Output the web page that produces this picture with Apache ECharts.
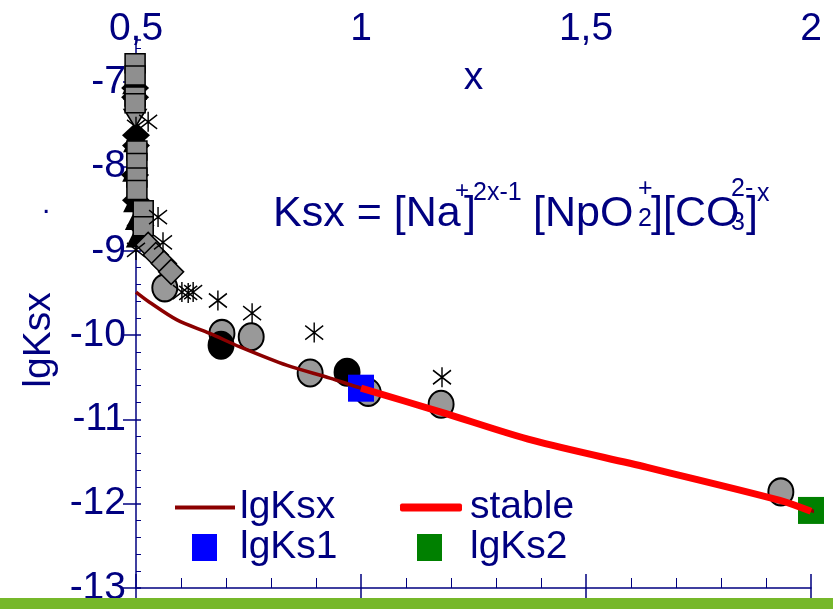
<!DOCTYPE html>
<html><head><meta charset="utf-8">
<script src="https://cdn.jsdelivr.net/npm/echarts@6/dist/echarts.min.js"></script>
<style>html,body{margin:0;padding:0;background:#fff}#c{width:833px;height:609px}</style>
</head><body><div id="c"></div>
<script>
// ---- data ----
const xTickValues = [0.5, 1, 1.5, 2];
const xTickLabels = ['0,5', '1', '1,5', '2'];
const yTickValues = [-13, -12, -11, -10, -9, -8, -7];

const lgKsxLine = [[0.5,-9.49],[0.53,-9.61],[0.591,-9.82],[0.664,-9.98],[0.731,-10.14],[0.836,-10.36],[0.931,-10.51],[1.0,-10.63],[1.176,-10.91],[1.382,-11.25],[1.636,-11.57],[1.931,-11.96],[2.0,-12.08],[2.03,-12.13]];
const stableLine = [[1.0,-10.63],[1.176,-10.91],[1.382,-11.25],[1.636,-11.57],[1.931,-11.96],[2.0,-12.09]];
const lgKs1 = [[1.0,-10.63]];
const lgKs2 = [[2.0,-12.08]];
const grayCircles = [[0.564,-9.44],[0.691,-9.98],[0.756,-10.02],[0.887,-10.45],[1.016,-10.68],[1.178,-10.82],[1.933,-11.86]];
const blackCircles = [[0.689,-10.12],[0.969,-10.44]];
const asterisks = [[0.527,-7.47],[0.5,-7.53],[0.549,-8.60],[0.5,-8.99],[0.56,-8.90],[0.602,-9.49],[0.616,-9.50],[0.627,-9.49],[0.682,-9.59],[0.758,-9.74],[0.896,-9.97],[1.18,-10.50]];
const graySquares = [[0.498,-6.775],[0.498,-6.92],[0.498,-7.17],[0.498,-7.25],[0.502,-7.81],[0.502,-7.96],[0.502,-8.13],[0.502,-8.28],[0.516,-8.52],[0.516,-8.71]];
const grayDiamonds = [[0.527,-8.93],[0.544,-9.05],[0.562,-9.15],[0.578,-9.25]];
const grayTriangles = [[0.498,-7.43]];
const blackTriangles = [[0.496,-7.0],[0.498,-7.07],[0.5,-7.63],[0.498,-7.69],[0.496,-8.04],[0.498,-8.40],[0.502,-8.61],[0.504,-8.82]];
const blackDiamonds = [[0.498,-7.07],[0.498,-7.18],[0.5,-7.63],[0.5,-7.75],[0.498,-8.10],[0.5,-8.40],[0.51,-8.70]];

// ---- chart ----
const NAVY = '#000080';
const FONT = '"Liberation Sans", Arial, sans-serif';
const chart = echarts.init(document.getElementById('c'), null, {renderer: 'canvas'});
const asteriskPath = 'path://M9,0L9,20M0,3L18,17M0,17L18,3';

const grid = {left: 136, right: 22, top: 40, bottom: 21};
function xFmt(v) { const i = xTickValues.indexOf(v); return i >= 0 ? xTickLabels[i] : ''; }
function yFmt(v) { return yTickValues.indexOf(v) >= 0 ? String(v) : ''; }

function scatter(name, data, symbol, size, style, extra) {
  const s = {type: 'scatter', data: data, symbol: symbol, symbolSize: size, clip: false,
    itemStyle: Object.assign({opacity: 1}, style), emphasis: {disabled: true}};
  if (name) s.name = name;
  return Object.assign(s, extra || {});
}

const option = {
  animation: false,
  backgroundColor: '#fff',
  textStyle: {fontFamily: FONT},
  grid: grid,
  xAxis: [
    {type: 'value', position: 'top', min: 0.5, max: 2, interval: 0.5,
     axisLine: {show: false}, axisTick: {show: false}, splitLine: {show: false},
     axisLabel: {formatter: xFmt, color: NAVY, fontSize: 39, fontFamily: FONT, margin: -9},
     name: 'x', nameLocation: 'middle', nameGap: -58,
     nameTextStyle: {color: NAVY, fontSize: 39, fontFamily: FONT}},
    {type: 'value', position: 'bottom', min: 0.5, max: 2, interval: 0.5,
     axisLine: {show: true, lineStyle: {color: NAVY, width: 1.5}},
     axisTick: {show: true, inside: true, length: 14, lineStyle: {color: NAVY, width: 1.5}},
     minorTick: {show: true, splitNumber: 5, length: 10, lineStyle: {color: NAVY, width: 1}},
     axisLabel: {show: false}, splitLine: {show: false}},
    {type: 'value', position: 'bottom', min: 0.5, max: 2, interval: 0.5,
     axisLine: {show: false},
     axisTick: {show: true, inside: false, length: 14, lineStyle: {color: NAVY, width: 1.5}},
     axisLabel: {show: false}, splitLine: {show: false}}
  ],
  yAxis: [
    {type: 'value', position: 'left', min: -13, max: -6.5, interval: 1,
     axisLine: {show: true, lineStyle: {color: NAVY, width: 1.5}},
     axisTick: {show: true, inside: false, length: 13, lineStyle: {color: NAVY, width: 1.5}},
     axisLabel: {formatter: yFmt, color: NAVY, fontSize: 39, fontFamily: FONT, margin: 10, showMaxLabel: false},
     splitLine: {show: false},
     name: 'lgKsx', nameLocation: 'middle', nameGap: 77,
     nameTextStyle: {color: NAVY, fontSize: 39, fontFamily: FONT, padding: [0, 52, 0, 0]}},
    {type: 'value', position: 'left', min: -13, max: -6.5, interval: 1,
     axisLine: {show: false},
     axisTick: {show: true, inside: true, length: 5, lineStyle: {color: NAVY, width: 1.5}},
     minorTick: {show: true, splitNumber: 5, length: 5, lineStyle: {color: NAVY, width: 1}},
     axisLabel: {show: false}, splitLine: {show: false}}
  ],
  legend: [
    {data: [{name: 'lgKsx', icon: 'rect'}], left: 175, top: 488, padding: 0, itemWidth: 60, itemHeight: 4,
     selectedMode: false, textStyle: {color: NAVY, fontSize: 39, fontFamily: FONT}},
    {data: [{name: 'stable', icon: 'roundRect'}], left: 400, top: 488, padding: 0, itemWidth: 62, itemHeight: 8,
     selectedMode: false, textStyle: {color: NAVY, fontSize: 39, fontFamily: FONT, padding: [0, 0, 0, 3]}},
    {data: [{name: 'lgKs1', icon: 'rect'}], left: 192, top: 528, padding: 0, itemWidth: 25, itemHeight: 27,
     selectedMode: false, textStyle: {color: NAVY, fontSize: 39, fontFamily: FONT, padding: [0, 0, 0, 18]}},
    {data: [{name: 'lgKs2', icon: 'rect'}], left: 417, top: 528, padding: 0, itemWidth: 25, itemHeight: 27,
     selectedMode: false, textStyle: {color: NAVY, fontSize: 39, fontFamily: FONT, padding: [0, 0, 0, 23]}}
  ],
  graphic: [
    {type: 'rect', left: 0, top: 598, shape: {width: 833, height: 11}, style: {fill: '#76b82a'}, z: 100},
    {type: 'text', x: 42, y: 190, style: {text: '.', font: '30px ' + FONT, fill: NAVY}},
    {type: 'text', x: 273, y: 214, style: {text: 'Ksx = [Na', font: '43px ' + FONT, fill: NAVY, verticalAlign: 'middle'}},
    {type: 'text', x: 455, y: 191, style: {text: '+', font: '24px ' + FONT, fill: NAVY, verticalAlign: 'middle'}},
    {type: 'text', x: 464, y: 214, style: {text: ']', font: '43px ' + FONT, fill: NAVY, verticalAlign: 'middle'}},
    {type: 'text', x: 473, y: 193, style: {text: '2x-1', font: '25px ' + FONT, fill: NAVY, verticalAlign: 'middle'}},
    {type: 'text', x: 533, y: 214, style: {text: '[NpO', font: '43px ' + FONT, fill: NAVY, verticalAlign: 'middle'}},
    {type: 'text', x: 638, y: 189, style: {text: '+', font: '25px ' + FONT, fill: NAVY, verticalAlign: 'middle'}},
    {type: 'text', x: 638, y: 219, style: {text: '2', font: '25px ' + FONT, fill: NAVY, verticalAlign: 'middle'}},
    {type: 'text', x: 651, y: 214, style: {text: '][CO', font: '43px ' + FONT, fill: NAVY, verticalAlign: 'middle'}},
    {type: 'text', x: 731, y: 189, style: {text: '2-', font: '25px ' + FONT, fill: NAVY, verticalAlign: 'middle'}},
    {type: 'text', x: 731, y: 223, style: {text: '3', font: '25px ' + FONT, fill: NAVY, verticalAlign: 'middle'}},
    {type: 'text', x: 746, y: 214, style: {text: ']', font: '43px ' + FONT, fill: NAVY, verticalAlign: 'middle'}},
    {type: 'text', x: 757, y: 194, style: {text: 'x', font: '25px ' + FONT, fill: NAVY, verticalAlign: 'middle'}}
  ],
  series: [
    {name: 'lgKsx', type: 'line', data: lgKsxLine, smooth: 0.3, symbol: 'none', clip: false,
     lineStyle: {color: '#8b0000', width: 3.5}, itemStyle: {color: '#8b0000'}, emphasis: {disabled: true}},
    {name: 'stable', type: 'line', data: stableLine, smooth: 0.3, symbol: 'none', clip: false,
     lineStyle: {color: '#ff0000', width: 7}, itemStyle: {color: '#ff0000'}, emphasis: {disabled: true}},
    scatter(null, blackTriangles, 'triangle', [24, 24], {color: '#000'}),
    scatter(null, blackDiamonds, 'diamond', [28, 26], {color: '#000'}),
    scatter(null, grayCircles, 'circle', [25, 27], {color: '#999999', borderColor: '#000', borderWidth: 2}),
    scatter(null, blackCircles, 'circle', [25, 27], {color: '#000', borderColor: '#000', borderWidth: 2}),
    scatter(null, grayTriangles, 'triangle', [22, 18], {color: '#909090', borderColor: '#000', borderWidth: 1.5}, {symbolRotate: 180}),
    scatter(null, graySquares, 'rect', [20, 19], {color: '#8f8f8f', borderColor: '#000', borderWidth: 1.5}),
    scatter(null, grayDiamonds, 'diamond', [25, 25], {color: '#8f8f8f', borderColor: '#000', borderWidth: 1.5}),
    scatter(null, asterisks, asteriskPath, [18, 20], {color: 'rgba(0,0,0,0)', borderColor: '#000', borderWidth: 1.5}),
    scatter('lgKs1', lgKs1, 'rect', [26, 27], {color: '#0000ff'}),
    scatter('lgKs2', lgKs2, 'rect', [26, 27], {color: '#008000'})
  ]
};
chart.setOption(option);
</script>
</body></html>
